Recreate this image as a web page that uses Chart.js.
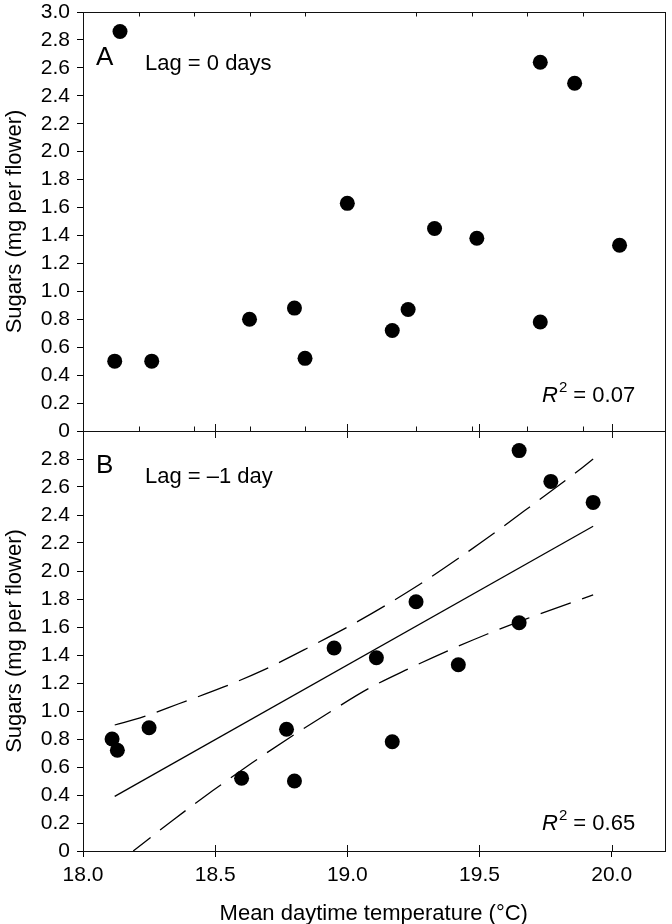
<!DOCTYPE html>
<html>
<head>
<meta charset="utf-8">
<script src="https://cdn.jsdelivr.net/npm/chart.js@4.4.1/dist/chart.umd.min.js"></script>
<style>
  html, body { margin: 0; padding: 0; background: #fff; }
  #wrap { position: relative; width: 672px; height: 924px; background: #fff; overflow: hidden; }
  canvas { position: absolute; left: 0; }
  #cA { top: 0; }
  #cB { top: 420px; }
</style>
</head>
<body>
<div id="wrap">
  <canvas id="cA" width="672" height="445"></canvas>
  <canvas id="cB" width="672" height="504"></canvas>
</div>
<script>
// ---------- data ----------
// Panel A: lag = 0 days
const tempA   = [18.14, 18.12, 18.26, 18.63, 18.80, 18.84, 19.00, 19.17, 19.23, 19.33, 19.49, 19.73, 19.73, 19.86, 20.03];
const sugarsA = [2.86, 0.50, 0.50, 0.80, 0.88, 0.52, 1.63, 0.72, 0.87, 1.45, 1.38, 2.64, 0.78, 2.49, 1.33];
// Panel B: lag = -1 day
const tempB   = [18.11, 18.13, 18.25, 18.60, 18.77, 18.80, 18.95, 19.11, 19.17, 19.26, 19.42, 19.65, 19.65, 19.77, 19.93];
const sugarsB = [0.80, 0.72, 0.88, 0.52, 0.87, 0.50, 1.45, 1.38, 0.78, 1.78, 1.33, 1.63, 2.86, 2.64, 2.49];
// Regression line and confidence band in panel B
const fitX   = [18.12, 19.93];
const fitY   = [0.39, 2.32];
const upperX = [18.12, 18.23, 18.36, 18.53, 18.68, 18.86, 19.04, 19.27, 19.42, 19.57, 19.72, 19.87, 19.93];
const upperY = [0.90, 0.96, 1.05, 1.17, 1.29, 1.46, 1.64, 1.90, 2.09, 2.29, 2.50, 2.71, 2.80];
const lowerX = [18.19, 18.34, 18.49, 18.64, 18.79, 18.94, 19.08, 19.23, 19.38, 19.53, 19.68, 19.93];
const lowerY = [0.00, 0.22, 0.43, 0.63, 0.82, 1.00, 1.16, 1.30, 1.43, 1.55, 1.66, 1.83];
// Axes / tick labels
const xTicks   = [18.0, 18.5, 19.0, 19.5, 20.0];
const xMinorA  = [18.21, 18.42, 18.63, 18.84, 19.26, 19.47, 19.68, 19.89];
const yTicksA  = [0, 0.2, 0.4, 0.6, 0.8, 1.0, 1.2, 1.4, 1.6, 1.8, 2.0, 2.2, 2.4, 2.6, 2.8, 3.0];
const yTicksB  = [0, 0.2, 0.4, 0.6, 0.8, 1.0, 1.2, 1.4, 1.6, 1.8, 2.0, 2.2, 2.4, 2.6, 2.8];
const xRange   = [18.0, 20.2];
const yRange   = [0, 3.0];
const xTitle   = 'Mean daytime temperature (\u00B0C)';
const yTitle   = 'Sugars (mg per flower)';
const panelLabels = ['A', 'B'];
const lagLabels   = ['Lag = 0 days', 'Lag = \u20131 day'];
const r2Values    = ['0.07', '0.65'];

// ---------- helpers ----------
const FONT = '"Liberation Sans", Arial, Helvetica, sans-serif';
const pts = (xs, ys) => xs.map((x, i) => ({ x: x, y: ys[i] }));
const fmt = v => (v === 0 ? '0' : Number(v).toFixed(1));

function makeYScale(tickList) {
  return {
    type: 'linear', min: yRange[0], max: yRange[1],
    afterBuildTicks: s => { s.ticks = tickList.map(v => ({ value: v })); },
    afterFit: s => { s.width = 83; s.paddingTop = 0; s.paddingBottom = 0; },
    ticks: { color: '#000', font: { family: FONT, size: 21 }, padding: 7, autoSkip: false, callback: v => fmt(v) },
    grid: { display: true, drawOnChartArea: false, drawTicks: true, tickLength: 6, color: '#000', lineWidth: 1 },
    border: { display: false }
  };
}

function drawR2(ctx, x, y, value) {
  ctx.save();
  ctx.fillStyle = '#000';
  ctx.textBaseline = 'alphabetic';
  ctx.textAlign = 'left';
  ctx.font = 'italic 22px ' + FONT;
  ctx.fillText('R', x, y);
  let w = ctx.measureText('R').width;
  ctx.font = '15px ' + FONT;
  ctx.fillText('2', x + w + 1, y - 10);
  w += ctx.measureText('2').width + 1;
  ctx.font = '22px ' + FONT;
  ctx.fillText(' = ' + value, x + w, y);
  ctx.restore();
}

function frame(chart, ctx) {
  const a = chart.chartArea;
  ctx.save();
  ctx.strokeStyle = '#111';
  ctx.lineWidth = 1;
  ctx.strokeRect(Math.round(a.left) + 0.5, Math.round(a.top) + 0.5,
                 Math.round(a.right) - Math.round(a.left), Math.round(a.bottom) - Math.round(a.top));
  ctx.restore();
}

// fine-tune layout padding so that the plot area lands where the reference has it
function fitArea(chart, top, bottom) {
  for (let i = 0; i < 4; i++) {
    const a = chart.chartArea, p = chart.options.layout.padding;
    const dt = top - a.top, db = a.bottom - bottom;
    if (Math.abs(dt) < 0.1 && Math.abs(db) < 0.1) break;
    p.top += dt; p.bottom += db;
    chart.update('none');
  }
}

// ---------- Panel A ----------
const plugA = {
  id: 'decorA',
  afterDraw(chart) {
    const ctx = chart.ctx, a = chart.chartArea, xs = chart.scales.x;
    frame(chart, ctx);
    ctx.save();
    ctx.strokeStyle = '#111';
    ctx.lineWidth = 1;
    ctx.beginPath();
    xMinorA.forEach(v => {
      const px = Math.round(xs.getPixelForValue(v)) + 0.5;
      ctx.moveTo(px, a.top); ctx.lineTo(px, a.top + 4.5);
      ctx.moveTo(px, a.bottom); ctx.lineTo(px, a.bottom - 4.5);
    });
    ctx.stroke();
    ctx.fillStyle = '#000';
    ctx.textAlign = 'left';
    ctx.textBaseline = 'alphabetic';
    ctx.font = '26px ' + FONT;
    ctx.fillText(panelLabels[0], 96, 65);
    ctx.font = '22px ' + FONT;
    ctx.fillText(lagLabels[0], 145, 70);
    ctx.save();
    ctx.translate(21, (a.top + a.bottom) / 2);
    ctx.rotate(-Math.PI / 2);
    ctx.textAlign = 'center';
    ctx.font = '22px ' + FONT;
    ctx.fillText(yTitle, 0, 0);
    ctx.restore();
    ctx.restore();
    drawR2(ctx, 542, 402, r2Values[0]);
  }
};

const chartA = new Chart(document.getElementById('cA'), {
  type: 'scatter',
  data: {
    datasets: [{
      data: pts(tempA, sugarsA),
      backgroundColor: '#000', borderColor: '#000',
      pointRadius: 7.5, pointHoverRadius: 7.5, borderWidth: 0
    }]
  },
  options: {
    responsive: false, animation: false, events: [],
    layout: { padding: { left: 0, right: 3, top: 12, bottom: 14 } },
    plugins: { legend: { display: false }, tooltip: { enabled: false } },
    scales: {
      x: { type: 'linear', min: xRange[0], max: xRange[1], display: false },
      y: makeYScale(yTicksA)
    }
  },
  plugins: [plugA]
});
fitArea(chartA, 12, 431);

// ---------- Panel B ----------
const plugB = {
  id: 'decorB',
  afterDraw(chart) {
    const ctx = chart.ctx, a = chart.chartArea, xs = chart.scales.x;
    frame(chart, ctx);
    ctx.save();
    ctx.strokeStyle = '#111';
    ctx.lineWidth = 1;
    ctx.beginPath();
    xTicks.forEach(v => {
      const px = Math.round(xs.getPixelForValue(v)) + 0.5;
      ctx.moveTo(px, a.bottom); ctx.lineTo(px, a.bottom - 6);
      if (v > xRange[0]) { ctx.moveTo(px, a.top - 7); ctx.lineTo(px, a.top + 7); }
    });
    ctx.stroke();
    ctx.fillStyle = '#000';
    ctx.textAlign = 'left';
    ctx.textBaseline = 'alphabetic';
    ctx.font = '26px ' + FONT;
    ctx.fillText(panelLabels[1], 96, 473 - 420);
    ctx.font = '22px ' + FONT;
    ctx.fillText(lagLabels[1], 145, 483 - 420);
    ctx.save();
    ctx.translate(21, (a.top + a.bottom) / 2);
    ctx.rotate(-Math.PI / 2);
    ctx.textAlign = 'center';
    ctx.font = '22px ' + FONT;
    ctx.fillText(yTitle, 0, 0);
    ctx.restore();
    ctx.textAlign = 'center';
    ctx.font = '22px ' + FONT;
    ctx.fillText(xTitle, (a.left + a.right) / 2, 920 - 420);
    ctx.restore();
    drawR2(ctx, 542, 830 - 420, r2Values[1]);
  }
};

const lineStyle = { showLine: true, pointRadius: 0, pointHoverRadius: 0, borderColor: '#000', borderWidth: 1.3, fill: false, order: 1 };

const chartB = new Chart(document.getElementById('cB'), {
  type: 'scatter',
  data: {
    datasets: [
      Object.assign({ data: pts(fitX, fitY) }, lineStyle),
      Object.assign({ data: pts(upperX, upperY), borderDash: [32, 12], cubicInterpolationMode: 'monotone' }, lineStyle),
      Object.assign({ data: pts(lowerX, lowerY), borderDash: [32, 12], borderDashOffset: 10, cubicInterpolationMode: 'monotone' }, lineStyle),
      {
        data: pts(tempB, sugarsB),
        backgroundColor: '#000', borderColor: '#000',
        pointRadius: 7.5, pointHoverRadius: 7.5, borderWidth: 0, order: 0
      }
    ]
  },
  options: {
    responsive: false, animation: false, events: [],
    layout: { padding: { left: 0, right: 3, top: 11, bottom: 0 } },
    plugins: { legend: { display: false }, tooltip: { enabled: false } },
    scales: {
      x: {
        type: 'linear', min: xRange[0], max: xRange[1],
        afterBuildTicks: s => { s.ticks = xTicks.map(v => ({ value: v })); },
        afterFit: s => { s.height = 73; },
        ticks: { color: '#000', font: { family: FONT, size: 21 }, padding: 6, maxRotation: 0, autoSkip: false, callback: v => fmt(v) },
        grid: { display: true, drawOnChartArea: false, drawTicks: true, tickLength: 6, color: '#000', lineWidth: 1 },
        border: { display: false }
      },
      y: makeYScale(yTicksB)
    }
  },
  plugins: [plugB]
});
fitArea(chartB, 11, 431);
</script>
</body>
</html>
